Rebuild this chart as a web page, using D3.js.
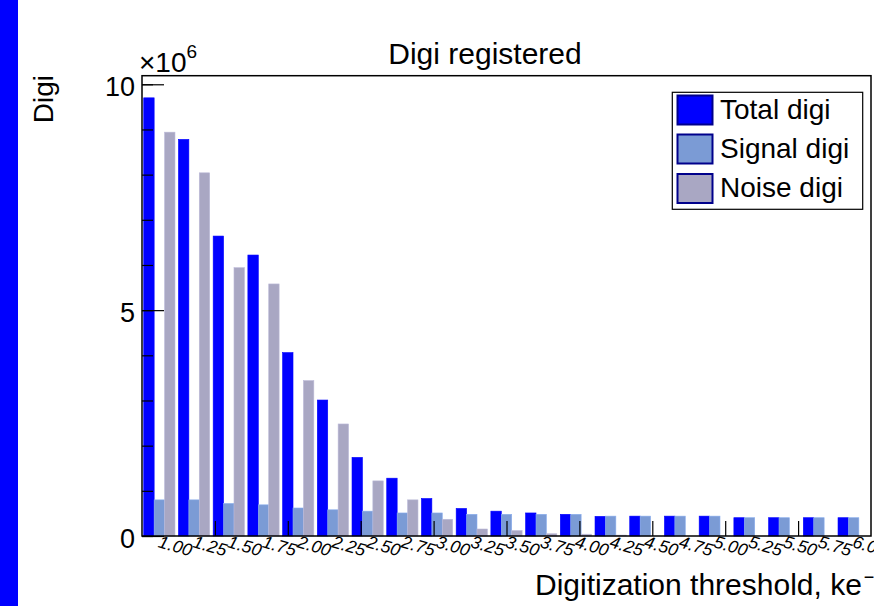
<!DOCTYPE html>
<html>
<head>
<meta charset="utf-8">
<script src="https://cdn.jsdelivr.net/npm/d3@7"></script>
<style>
  html, body { margin: 0; padding: 0; background: #fff; }
  svg { display: block; font-family: "Liberation Sans", Arial, Helvetica, sans-serif; }
</style>
</head>
<body>
<svg id="chart" width="874" height="606"></svg>
<script>
// Digitization thresholds (keV-equivalent electrons), one bin each
const categories = ["1.00","1.25","1.50","1.75","2.00","2.25","2.50","2.75","3.00","3.25","3.50",
                    "3.75","4.00","4.25","4.50","4.75","5.00","5.25","5.50","5.75","6.00"];

// Registered digi counts, in units of 10^6
const totalDigi  = [9.70, 8.78, 6.64, 6.22, 4.06, 3.01, 1.74, 1.28, 0.83, 0.61, 0.55,
                    0.51, 0.48, 0.435, 0.44, 0.44, 0.44, 0.405, 0.405, 0.405, 0.405];
const signalDigi = [0.80, 0.80, 0.72, 0.69, 0.62, 0.58, 0.55, 0.51, 0.51, 0.48, 0.48,
                    0.48, 0.48, 0.44, 0.44, 0.44, 0.44, 0.405, 0.405, 0.405, 0.405];
const noiseDigi  = [8.94, 8.04, 5.94, 5.58, 3.44, 2.48, 1.22, 0.80, 0.37, 0.155, 0.12,
                    0.05, 0.04, 0.02, 0, 0, 0, 0, 0, 0, 0];

const seriesNames = ["Total digi", "Signal digi", "Noise digi"];
const yTickLabels = [0, 5, 10];

const svg = d3.select("#chart");

// side band on the left edge of the canvas
svg.append("rect").attr("x", 0).attr("y", 0).attr("width", 18).attr("height", 606).attr("fill", "#0000ff");

const frame = { left: 142, right: 871, top: 75.7, bottom: 536 };

const x = d3.scaleBand().domain(categories).range([frame.left, frame.right]).paddingInner(0).paddingOuter(0);
const y = d3.scaleLinear().domain([0, 10.19]).range([frame.bottom, frame.top]);

const series = [
  { name: seriesNames[0], values: totalDigi,  color: "#0000ff", offset: 0.05 },
  { name: seriesNames[1], values: signalDigi, color: "#7b9bd5", offset: 0.35 },
  { name: seriesNames[2], values: noiseDigi,  color: "#a9a7c3", offset: 0.65 }
];
const barFrac = 0.3;
const bw = x.bandwidth();

// bars
series.forEach(s => {
  svg.append("g").selectAll("rect")
    .data(categories.map((c, i) => ({ c, v: s.values[i] })))
    .join("rect")
    .attr("x", d => x(d.c) + s.offset * bw)
    .attr("width", barFrac * bw)
    .attr("y", d => y(d.v))
    .attr("height", d => y(0) - y(d.v))
    .attr("fill", s.color)
    .attr("stroke", d3.color(s.color).brighter(0.3))
    .attr("stroke-width", 0.6);
});

// y axis: major ticks with labels, minor ticks every unit
const yMajor = d3.axisLeft(y).tickValues(yTickLabels).tickSize(-22).tickPadding(7).tickFormat(d3.format("d"));
const yMinor = d3.axisLeft(y).tickValues(d3.range(0, 11)).tickSize(-11).tickFormat("");
const gyMin = svg.append("g").attr("transform", `translate(${frame.left},0)`).call(yMinor);
const gy = svg.append("g").attr("transform", `translate(${frame.left},0)`).call(yMajor);
[gy, gyMin].forEach(g => {
  g.select(".domain").remove();
  g.selectAll("line").attr("stroke", "#000").attr("stroke-width", 1.2);
});
gy.selectAll("text").attr("font-size", 27).attr("dy", "0.42em").attr("fill", "#000")
  .attr("font-family", "Liberation Sans, Arial, sans-serif");

// x axis division ticks (10 divisions across the frame)
const xDiv = d3.scaleLinear().domain([0, 10]).range([frame.left, frame.right]);
const gx = svg.append("g").attr("transform", `translate(0,${frame.bottom})`)
  .call(d3.axisBottom(xDiv).tickValues(d3.range(1, 10)).tickSize(-15).tickFormat(""));
gx.select(".domain").remove();
gx.selectAll("line").attr("stroke", "#000").attr("stroke-width", 1.2);

// frame
svg.append("rect")
  .attr("x", frame.left).attr("y", frame.top)
  .attr("width", frame.right - frame.left).attr("height", frame.bottom - frame.top)
  .attr("fill", "none").attr("stroke", "#000").attr("stroke-width", 1.5);

// bin labels, tilted
svg.append("g").selectAll("text")
  .data(categories)
  .join("text")
  .attr("transform", d => `translate(${x(d) + bw / 2 - 2},547) rotate(16)`)
  .attr("font-size", 17.5)
  .attr("font-style", "italic")
  .attr("fill", "#000")
  .text(d => d);

// exponent marker
const expo = svg.append("text").attr("x", 139).attr("y", 72).attr("font-size", 28).attr("fill", "#000");
expo.append("tspan").text("×10");
expo.append("tspan").attr("dy", -14).attr("font-size", 19).text("6");

// titles
svg.append("text").attr("x", 485).attr("y", 64).attr("text-anchor", "middle")
  .attr("font-size", 30).attr("fill", "#000").text("Digi registered");

svg.append("text").attr("transform", "translate(53,75) rotate(-90)").attr("text-anchor", "end")
  .attr("font-size", 28).attr("fill", "#000").text("Digi");

const xt = svg.append("text").attr("x", 535).attr("y", 595).attr("font-size", 30).attr("fill", "#000");
xt.append("tspan").text("Digitization threshold, ke");
xt.append("tspan").attr("dx", 2).attr("dy", -12).attr("font-size", 18).text("−");

// legend
const lg = svg.append("g");
lg.append("rect").attr("x", 672.3).attr("y", 92.3).attr("width", 190.4).attr("height", 117)
  .attr("fill", "#fff").attr("stroke", "#000").attr("stroke-width", 1.2);
const rowY = [110, 149, 188.5];
series.forEach((s, i) => {
  lg.append("rect").attr("x", 677.5).attr("y", rowY[i] - 14.5).attr("width", 35).attr("height", 29)
    .attr("fill", s.color).attr("stroke", "#00008b").attr("stroke-width", 2);
  lg.append("text").attr("x", 720).attr("y", rowY[i] + 8.5).attr("font-size", 28).attr("fill", "#000").text(s.name);
});
</script>
</body>
</html>
